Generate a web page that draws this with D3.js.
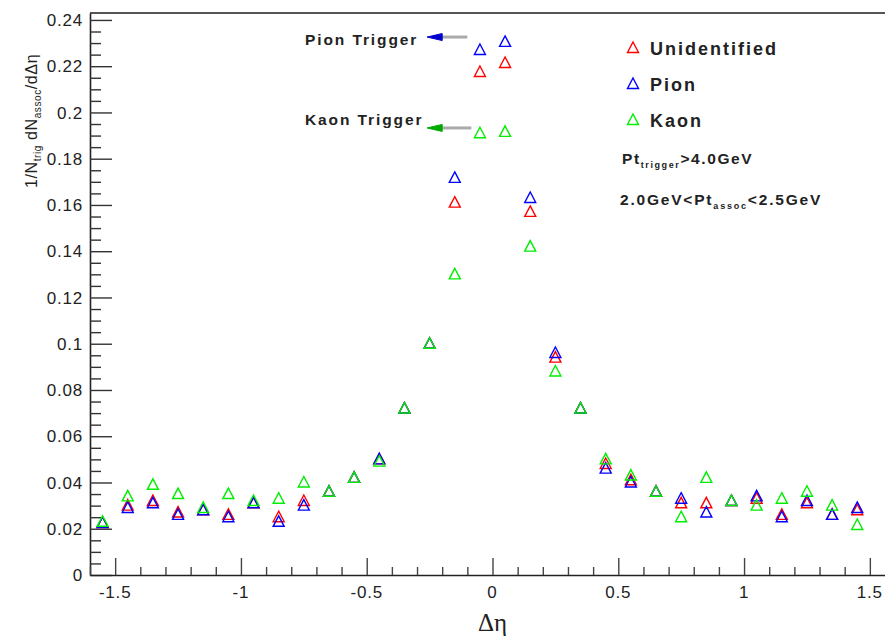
<!DOCTYPE html>
<html><head><meta charset="utf-8">
<script src="https://cdn.jsdelivr.net/npm/d3@7"></script>
<style>html,body{margin:0;padding:0;overflow:hidden;background:#fff}</style>
</head><body><div id="chart"></div>
<script>
const xCenters = [-1.55,-1.45,-1.35,-1.25,-1.15,-1.05,-0.95,-0.85,-0.75,-0.65,-0.55,-0.45,-0.35,-0.25,-0.15,-0.05,0.05,0.15,0.25,0.35,0.45,0.55,0.65,0.75,0.85,0.95,1.05,1.15,1.25,1.35,1.45];
const unidentified = [0.0225,0.030,0.032,0.027,0.028,0.026,0.031,0.025,0.032,0.036,0.042,0.050,0.072,0.100,0.161,0.2175,0.2214,0.157,0.094,0.072,0.048,0.041,0.036,0.031,0.031,0.032,0.033,0.026,0.031,0.026,0.028];
const pion = [0.0225,0.029,0.031,0.026,0.028,0.025,0.031,0.023,0.030,0.036,0.042,0.050,0.072,0.100,0.1717,0.227,0.2305,0.163,0.096,0.072,0.046,0.040,0.036,0.033,0.027,0.032,0.034,0.025,0.032,0.026,0.029];
const kaon = [0.023,0.034,0.039,0.035,0.029,0.035,0.032,0.033,0.040,0.036,0.042,0.049,0.072,0.100,0.130,0.191,0.1916,0.142,0.088,0.072,0.050,0.043,0.036,0.025,0.042,0.032,0.030,0.033,0.036,0.030,0.0216];
const seriesNames = ["Unidentified","Pion","Kaon"];
const seriesColors = ["#ff0000","#0000ff","#00ee00"];
const xTicks = [-1.5,-1,-0.5,0,0.5,1,1.5];
const xTickLabels = ["-1.5","-1","-0.5","0","0.5","1","1.5"];
const yTicks = [0,0.02,0.04,0.06,0.08,0.1,0.12,0.14,0.16,0.18,0.2,0.22,0.24];
const yTickLabels = ["0","0.02","0.04","0.06","0.08","0.1","0.12","0.14","0.16","0.18","0.2","0.22","0.24"];
const triggerLabels = ["Pion Trigger","Kaon Trigger"];
const triggerLevels = [0.2326,0.1933];
const triggerColors = ["#0000cc","#00aa00"];

const W = 900, H = 637;
const x = d3.scaleLinear().domain([-1.6,1.6]).range([90,895]);
const y = d3.scaleLinear().domain([0,0.243]).range([575,13]);

const svg = d3.select("#chart").append("svg").attr("width",W).attr("height",H)
  .style("font-family","'Liberation Sans', Arial, sans-serif");

// frame
svg.append("line").attr("x1",x(-1.6)).attr("x2",x(1.6)).attr("y1",y(0.243)).attr("y2",y(0.243))
  .attr("stroke","#555").attr("stroke-width",2);

// y axis
const yAxis = d3.axisRight(y).tickValues(d3.range(0,0.2431,0.005)).tickSize(0).tickFormat("");
const gy = svg.append("g").attr("transform",`translate(${x(-1.6)},0)`).call(yAxis);
gy.select(".domain").attr("stroke","#222").attr("stroke-width",1.6);
gy.selectAll(".tick line").remove();
gy.selectAll(".tick").append("line").attr("x1",0)
  .attr("x2",d=>Math.abs(d/0.02-Math.round(d/0.02))<1e-6?22:11)
  .attr("stroke","#333").attr("stroke-width",1.4);
svg.append("g").selectAll("text").data(yTicks).join("text")
  .attr("x",83).attr("y",d=>y(d)).attr("dy","0.36em").attr("text-anchor","end")
  .attr("font-size",17).attr("letter-spacing",0.8).attr("fill","#222")
  .text((d,i)=>yTickLabels[i]);

// x axis
const xAxis = d3.axisTop(x).tickValues(d3.range(-1.6,1.6001,0.1)).tickSize(0).tickFormat("");
const gx = svg.append("g").attr("transform",`translate(0,${y(0)})`).call(xAxis);
gx.select(".domain").attr("stroke","#222").attr("stroke-width",1.6);
gx.selectAll(".tick line").remove();
gx.selectAll(".tick").append("line").attr("y1",0)
  .attr("y2",d=>Math.abs(d*2-Math.round(d*2))<1e-6?-17:-8)
  .attr("stroke","#444").attr("stroke-width",1.4);
svg.append("g").selectAll("text").data(xTicks).join("text")
  .attr("x",d=>x(d)).attr("y",598).attr("text-anchor","middle")
  .attr("font-size",17).attr("letter-spacing",0.8).attr("fill","#222")
  .text((d,i)=>xTickLabels[i]);

// axis titles
svg.append("text").attr("x",x(0)).attr("y",631).attr("text-anchor","middle")
  .attr("font-family","'Liberation Serif','Times New Roman',serif").attr("font-size",25).attr("fill","#222")
  .text("\u0394\u03b7");
const yt = svg.append("text").attr("transform","translate(37,188) rotate(-90)")
  .attr("font-size",16).attr("letter-spacing",0.6).attr("fill","#222");
yt.append("tspan").text("1/N");
yt.append("tspan").attr("font-size",10).attr("dy",4).text("trig");
yt.append("tspan").attr("dy",-4).text(" dN");
yt.append("tspan").attr("font-size",10).attr("dy",4).text("assoc");
yt.append("tspan").attr("dy",-4).text("/d\u0394\u03b7");

// markers
const tri = "M0,-6L5.5,4.5L-5.5,4.5Z";
const allSeries = [unidentified,pion,kaon];
allSeries.forEach((vals,si)=>{
  svg.append("g").selectAll("path").data(xCenters.map((xc,i)=>({x:xc,y:vals[i]}))).join("path")
    .attr("d",tri).attr("transform",d=>`translate(${x(d.x)},${y(d.y)})`)
    .attr("fill","none").attr("stroke",seriesColors[si]).attr("stroke-width",1.4);
});

// trigger arrows
triggerLevels.forEach((lv,i)=>{
  const yy = y(lv);
  svg.append("line").attr("x1",x(-0.2)).attr("x2",x(-0.1)-(i?-4:0)).attr("y1",yy).attr("y2",yy)
    .attr("stroke","#aaa").attr("stroke-width",3);
  svg.append("path").attr("d",`M${x(-0.26)},${yy}L${x(-0.2)},${yy-3.5}L${x(-0.2)},${yy+3.5}Z`)
    .attr("fill",triggerColors[i]).attr("stroke",triggerColors[i]).attr("stroke-width",1);
  svg.append("text").attr("x",305).attr("y",yy+(i?-3:8)).attr("font-size",15.5).attr("font-weight","bold")
    .attr("letter-spacing",1.9).attr("fill","#222").text(triggerLabels[i]);
});

// legend
const legY = [48,84,120];
seriesNames.forEach((nm,i)=>{
  svg.append("path").attr("d",tri).attr("transform",`translate(633,${legY[i]})`)
    .attr("fill","none").attr("stroke",seriesColors[i]).attr("stroke-width",1.4);
  svg.append("text").attr("x",650).attr("y",legY[i]+7).attr("font-size",18).attr("font-weight","bold")
    .attr("letter-spacing",2).attr("fill","#222").text(nm);
});
const t1 = svg.append("text").attr("x",622).attr("y",164).attr("font-size",15.5).attr("letter-spacing",1.6).attr("fill","#222").attr("font-weight","bold");
t1.append("tspan").text("Pt");
t1.append("tspan").attr("font-size",9).attr("dy",4).text("trigger");
t1.append("tspan").attr("dy",-4).text(">4.0GeV");
const t2 = svg.append("text").attr("x",620).attr("y",205).attr("font-size",15.5).attr("letter-spacing",1.8).attr("fill","#222").attr("font-weight","bold");
t2.append("tspan").text("2.0GeV<Pt");
t2.append("tspan").attr("font-size",9).attr("dy",4).text("assoc");
t2.append("tspan").attr("dy",-4).text("<2.5GeV");
</script></body></html>
